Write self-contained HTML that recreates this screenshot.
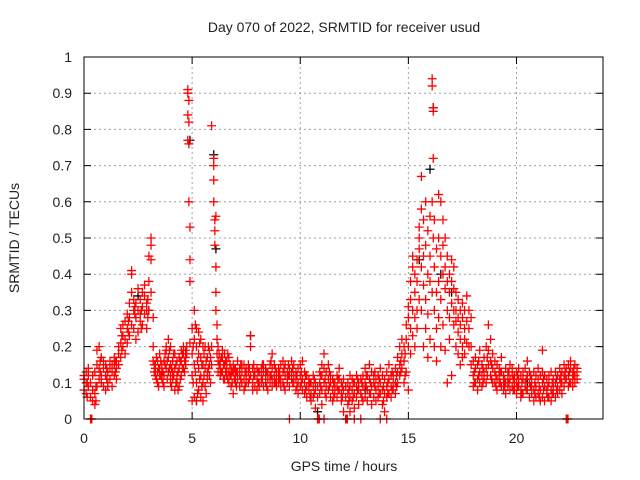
<!DOCTYPE html>
<html><head><meta charset="utf-8"><style>
body{margin:0;background:#fff;}
svg{display:block;font-family:"Liberation Sans",sans-serif;}
</style></head><body>
<svg id="chart" width="640" height="480" viewBox="0 0 640 480">
<text x="344" y="32" font-size="14" text-anchor="middle" fill="#222">Day 070 of 2022, SRMTID for receiver usud</text>
<text transform="translate(19,238) rotate(-90)" font-size="14" text-anchor="middle" fill="#222">SRMTID / TECUs</text>
<text x="344" y="471" font-size="14" text-anchor="middle" fill="#222">GPS time / hours</text>
<g id="grid"></g>
<g id="ticks"></g>
<g id="black"></g>
<g id="red"></g>
<rect x="84" y="57" width="519" height="362" fill="none" stroke="#000" stroke-width="1"/>
</svg>
<script>
const xTicks=[0,5,10,15,20];
const yTicks=[0,0.1,0.2,0.3,0.4,0.5,0.6,0.7,0.8,0.9,1];
const yTickLabels=["0","0.1","0.2","0.3","0.4","0.5","0.6","0.7","0.8","0.9","1"];
const redObs=[
[0.0,.11,.08,.12],[0.1,.10,.13,.07],[0.2,.09,.12,.14],[0.3,.06,.10,0],[0.33,0],[0.36,0],[0.4,.05,.08,.12],[0.5,.04,.07,.13],
[0.6,.09,.15,.19],[0.7,.11,.2,.14],[0.8,.12,.17,.1],[0.9,.09,.14,.16],[1.0,.08,.12,.15],[1.1,.1,.13,.09],[1.2,.14,.11,.16],
[1.3,.09,.13,.15],[1.4,.12,.15,.17],[1.5,.14,.16,.11],[1.6,.15,.18,.2],[1.7,.17,.21,.25],[1.8,.2,.23,.26],[1.9,.18,.22,.27],
[2.0,.21,.25,.29],[2.1,.23,.28,.32],[2.2,.26,.35,.41,.4],[2.3,.25,.3,.33],[2.4,.28,.32,.22],[2.5,.24,.3,.36],[2.6,.27,.33,.29],
[2.7,.31,.35,.26],[2.8,.29,.34,.37],[2.9,.25,.3,.32],[3.0,.3,.38,.45],[3.1,.44,.5,.48,.35],[3.2,.28,.2,.16],[3.3,.14,.12,.15],
[3.4,.13,.1,.16],[3.5,.12,.18,.14],[3.6,.15,.11,.13],[3.7,.09,.12,.16],[3.8,.14,.19,.2],[3.9,.17,.22,.13],[4.0,.12,.2,.15,.1],
[4.1,.16,.13,.11],[4.2,.08,.14,.18],[4.3,.12,.1,.16],[4.4,.14,.17,.09],[4.5,.16,.12,.19],[4.6,.18,.14,.2],[4.7,.15,.19,.17],
[4.8,.77,.84,.9,.91],[4.85,.76,.82,.88,.6],[4.9,.53,.44,.38,.21],[5.0,.05,.12,.18,.25],[5.1,.3,.22,.15,.06],[5.2,.25,.2,.1,.05],
[5.3,.18,.14,.24,.08],[5.4,.12,.22,.17,.06],[5.5,.1,.15,.2,.05],[5.6,.14,.2,.09],[5.7,.11,.17,.13],[5.8,.15,.19,.12],
[5.9,.81,.2,.15],[6.0,.72,.7,.66,.6],[6.05,.55,.52,.48],[6.1,.56,.42,.35,.3],[6.15,.26,.22,.18],[6.2,.2,.16,.13],
[6.3,.14,.12,.16],[6.4,.17,.13,.19],[6.5,.15,.18,.11],[6.6,.12,.16,.14],[6.7,.1,.13,.17],[6.8,.14,.09,.12],[6.9,.07,.13,.15],
[7.0,.12,.1,.14],[7.1,.16,.11,.13],[7.2,.09,.14,.12],[7.3,.13,.1,.15],[7.4,.11,.15,.08],[7.5,.12,.14,.1],[7.6,.15,.1,.13],
[7.7,.2,.23,.12],[7.8,.1,.14,.08],[7.9,.12,.09,.13],[8.0,.11,.14,.08],[8.1,.1,.13,.09],[8.2,.14,.12,.1],[8.3,.09,.13,.15],
[8.4,.12,.1,.14],[8.5,.13,.11,.08],[8.6,.15,.12,.1],[8.7,.11,.14,.09,.18],[8.8,.12,.1,.15],[8.9,.09,.13,.11],[9.0,.14,.1,.12],
[9.1,.11,.15,.09],[9.2,.13,.1,.16],[9.3,.15,.12,.08],[9.4,.1,.13,.11],[9.5,.14,.09,.12,0],[9.6,.11,.13,.16],[9.7,.15,.12,.1],
[9.8,.08,.11,.13],[9.9,.1,.14,.07],[10.0,.12,.09,.15],[10.1,.16,.11,.08],[10.2,.1,.07,.13],[10.3,.09,.12,.06],[10.4,.11,.08,.1],
[10.5,.07,.1,.05],[10.6,.09,.06,.12],[10.7,.08,.03,.1],[10.8,0,.06,.09],[10.84,0],[10.88,0],[10.9,.1,.13,.07],[11.0,.12,.08,.15,.04],
[11.1,.14,.1,0,.18],[11.2,.13,.09,.06],[11.3,.11,.15,.08],[11.4,.1,.06,.12],[11.5,.08,.11,.05],[11.6,.07,.1,.09],[11.7,.12,.06,.09],
[11.8,.08,.11,.14],[11.9,.05,.1,.07],[12.0,.08,.02,.11],[12.1,0,.06,.09],[12.14,0],[12.18,0],[12.2,.07,.04,.1],[12.3,.09,.06,.12,.02],
[12.4,.05,.08,.11],[12.5,.07,.1,0,.03],[12.6,.06,.09,.12],[12.7,.04,.08,.1],[12.8,.07,.11,0],[12.9,.09,.05,.12],[13.0,.1,.06,.14],
[13.1,.08,.12,.05],[13.2,.11,.07,.15],[13.3,.09,.13,.04],[13.4,.06,.1,.12],[13.5,.08,.05,.11],[13.6,.12,.09,.06],[13.7,.1,0,.07,.14],
[13.8,.08,.12,.04],[13.9,.11,.07,.02],[14.0,.13,.09,.06,0],[14.1,.07,.11,.15],[14.2,.09,.06,.12],[14.3,.12,.08,.1],[14.4,.1,.14,.07],
[14.5,.13,.17,.1],[14.6,.15,.2,.12],[14.7,.18,.14,.22],[14.8,.16,.2,.1],[14.9,.13,.22,.26],[15.0,.2,.28,.31,.08],[15.1,.25,.33,.38,.18],
[15.2,.3,.42,.45,.23],[15.3,.35,.4,.28,.2],[15.4,.44,.38,.3,.25],[15.5,.5,.53,.47,.33],[15.6,.58,.67,.42,.3],[15.7,.55,.45,.37,.2],
[15.8,.48,.6,.33,.25],[15.9,.52,.4,.29,.17],[16.0,.45,.56,.38,.22],[16.1,.94,.92,.6,.35],[16.15,.86,.85,.72,.5],[16.2,.55,.42,.3,.2],
[16.3,.47,.35,.25,.16],[16.4,.62,.5,.38,.28],[16.5,.6,.45,.33,.2],[16.6,.55,.48,.4,.26],[16.7,.5,.42,.36,.19],[16.8,.45,.38,.3,.1],
[16.9,.4,.35,.28,.22],[17.0,.44,.38,.32,.12],[17.1,.42,.36,.3,.26],[17.2,.35,.3,.27,.2],[17.3,.33,.28,.24,.18],[17.4,.3,.26,.22,.15],
[17.5,.32,.28,.2,.17],[17.6,.3,.25,.22,.18],[17.7,.34,.27,.21],[17.8,.3,.25,.2],[17.9,.28,.2,.15],[18.0,.16,.12,.09],
[18.1,.14,.1,.17],[18.2,.11,.15,.08],[18.3,.13,.1,.19],[18.4,.15,.12,.09],[18.5,.17,.13,.11],[18.6,.2,.14,.1],[18.7,.26,.19,.15],
[18.8,.22,.16,.12],[18.9,.18,.14,.1],[19.0,.13,.1,.16],[19.1,.11,.15,.08],[19.2,.14,.1,.12],[19.3,.09,.13,.17],[19.4,.12,.08,.1],
[19.5,.1,.14,.07],[19.6,.13,.09,.11],[19.7,.11,.15,.08],[19.8,.09,.12,.14],[19.9,.12,.08,.1],[20.0,.1,.13,.07],[20.1,.14,.09,.11],
[20.2,.08,.12,.06],[20.3,.11,.07,.13],[20.4,.09,.14,.1],[20.5,.12,.08,.16],[20.6,.1,.06,.13],[20.7,.07,.11,.09],[20.8,.13,.08,.05],
[20.9,.09,.12,.06],[21.0,.11,.07,.14],[21.1,.08,.12,.05],[21.2,.06,.1,.13,.19],[21.3,.09,.05,.12],[21.4,.07,.11,.08],[21.5,.1,.06,.12],
[21.6,.08,.13,.05],[21.7,.11,.07,.09],[21.8,.06,.1,.13],[21.9,.09,.12,.07],[22.0,.11,.08,.14],[22.1,.13,.1,.07],[22.2,.09,.12,.15],
[22.3,0,.11,.14],[22.34,0],[22.38,0],[22.4,.12,.15,.09],[22.5,.1,.14,.16],[22.6,.13,.09,.11],[22.7,.15,.12,.1],[22.8,.11,.14,.13]
];
const redObsExtra=[
[0.15,.1,.06],[0.55,.09,.05],[0.75,.16,.13],[1.05,.11,.14],[1.45,.13,.16],[1.75,.19,.23],[2.05,.24,.27],[2.35,.29,.31],[2.65,.3,.25],
[2.95,.33,.28],[3.25,.15,.13],[3.35,.17,.11],[3.45,.14,.09],[3.55,.16,.12],[3.65,.13,.1],[3.75,.18,.15],[3.85,.16,.11],[3.95,.19,.14],
[4.05,.14,.09],[4.15,.18,.12],[4.25,.1,.15],[4.35,.13,.08],[4.45,.11,.16],[4.55,.14,.18],[4.65,.16,.13],[4.75,.18,.2],
[5.05,.1,.2],[5.15,.13,.26],[5.25,.16,.07],[5.35,.21,.11],[5.45,.15,.09],[5.55,.18,.12],[5.65,.16,.07],[5.75,.2,.14],[5.85,.17,.1],
[6.25,.15,.18],[6.35,.13,.17],[6.45,.11,.15],[6.55,.13,.16],[6.65,.11,.18],[6.75,.12,.15],[6.85,.1,.13],[6.95,.11,.14],
[7.05,.13,.09],[7.25,.11,.15],[7.45,.13,.09],[7.65,.11,.14],[7.85,.12,.15],[8.05,.13,.1],[8.25,.11,.15],[8.45,.09,.13],
[8.65,.12,.16],[8.85,.14,.1],[9.05,.11,.13],[9.25,.09,.14],[9.45,.12,.15],[9.65,.1,.14],[9.85,.12,.09],[10.05,.1,.13],
[10.25,.08,.12],[10.45,.1,.06],[10.65,.07,.11],[10.95,.09,.12],[11.15,.11,.07],[11.35,.09,.13],[11.55,.1,.06],[11.75,.08,.11],
[11.95,.09,.06],[12.25,.08,.05],[12.45,.1,.06],[12.65,.08,.11],[12.85,.06,.1],[13.05,.09,.12],[13.25,.07,.1],[13.45,.09,.13],
[13.65,.07,.11],[13.85,.09,.05],[14.05,.1,.07],[14.25,.08,.13],[14.45,.12,.09],[14.65,.16,.13],[14.85,.18,.12],
[18.05,.13,.1],[18.25,.12,.16],[18.45,.14,.1],[18.65,.17,.12],[18.85,.15,.11],[19.05,.12,.09],[19.25,.13,.1],[19.45,.11,.09],
[19.65,.1,.13],[19.85,.11,.08],[20.05,.12,.09],[20.25,.1,.07],[20.45,.11,.08],[20.65,.09,.12],[20.85,.1,.07],[21.05,.09,.06],
[21.25,.08,.11],[21.45,.09,.06],[21.65,.1,.07],[21.85,.08,.11],[22.05,.1,.12],[22.25,.11,.13],[22.45,.13,.1],[22.65,.12,.14]
];
const blackObs=[[4.9,.77],[5.2,.05],[6.0,.73],[6.1,.47],[7.7,.23],[10.8,.02],[15.5,.44],[16.0,.69],[16.15,.86],[16.5,.4],[17.0,.35],[3.0,.3],[2.5,.34],[13.0,.08],[20.5,.1]];
const NS="http://www.w3.org/2000/svg";
const X0=84,X1=603,Y0=419,Y1=57,XMAX=24;
function xs(t){return X0+t*(X1-X0)/XMAX;}
function ys(v){return Y0-v*(Y0-Y1);}
function mk(tag,attrs,parent){const e=document.createElementNS(NS,tag);for(const k in attrs)e.setAttribute(k,attrs[k]);parent.appendChild(e);return e;}
const grid=document.getElementById('grid'),ticks=document.getElementById('ticks');
yTicks.forEach((v,i)=>{
  const y=ys(v);
  if(i>0&&i<yTicks.length-1){const g=mk('line',{x1:X0,x2:X1,y1:y,y2:y,stroke:'#a0a0a0','stroke-dasharray':'2,3'},grid);
  
  }
  const t1=mk('path',{d:`M${X0},${y}h7M${X1},${y}h-7`,stroke:'#000'},ticks);
  
  
  const l=mk('text',{x:72,y:y+5,'font-size':14,'text-anchor':'end',fill:'#222'},ticks);
  l.textContent=yTickLabels[i];
  
  
});
xTicks.forEach(t=>{
  const x=xs(t);
  if(t>0){const g=mk('line',{x1:x,x2:x,y1:Y0,y2:Y1,stroke:'#a0a0a0','stroke-dasharray':'2,3'},grid);
  
  }
  const t1=mk('path',{d:`M${x},${Y0}v-7M${x},${Y1}v7`,stroke:'#000'},ticks);
  
  
  const l=mk('text',{x:x,y:443,'font-size':14,'text-anchor':'middle',fill:'#222'},ticks);
  l.textContent=String(t);
  
  
});
function cross(t,v,color,parent){
  const x=xs(t),y=ys(v);
  const p=mk('path',{d:`M${x-4.5},${y}h9M${x},${y-4.5}v9`,stroke:color,'stroke-width':1.3},parent);
  
  
}
const bg=document.getElementById('black'),rg=document.getElementById('red');
blackObs.forEach(r=>cross(r[0],r[1],'#000',bg));
redObs.forEach(r=>{for(let i=1;i<r.length;i++)cross(r[0],r[i],'#ff0000',rg);});
redObsExtra.forEach(r=>{for(let i=1;i<r.length;i++)cross(r[0],r[i],'#ff0000',rg);});
</script>
</body></html>
